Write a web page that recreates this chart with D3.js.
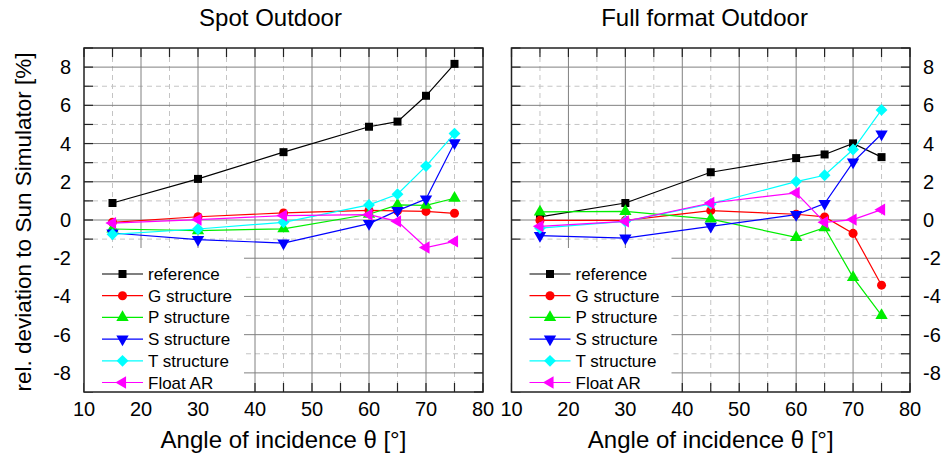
<!DOCTYPE html>
<html>
<head>
<meta charset="utf-8">
<script src="https://cdn.jsdelivr.net/npm/d3@7"></script>
<style>
  body { margin: 0; background: #fff; }
  text { font-family: "Liberation Sans", Arial, sans-serif; fill: #000; }
</style>
</head>
<body>
<svg id="chart" width="949" height="456"></svg>
<script>
// angles of incidence (deg)
const angles = [15, 30, 45, 60, 65, 70, 75];

const seriesNames = ["reference", "G structure", "P structure", "S structure", "T structure", "Float AR"];

// Spot Outdoor
const spotReference = [0.89, 2.15, 3.55, 4.88, 5.15, 6.5, 8.17];
const spotG = [-0.12, 0.17, 0.37, 0.5, 0.48, 0.45, 0.35];
const spotP = [-0.47, -0.56, -0.46, 0.3, 0.79, 0.77, 1.14];
const spotS = [-0.68, -1.03, -1.21, -0.19, 0.49, 1.1, 4.04];
const spotT = [-0.75, -0.47, -0.12, 0.79, 1.35, 2.82, 4.52];
const spotFloat = [-0.16, 0.02, 0.23, 0.28, -0.07, -1.44, -1.12];

// Full format Outdoor
const fullReference = [0.16, 0.89, 2.5, 3.24, 3.43, 4.01, 3.29];
const fullG = [-0.02, -0.02, 0.49, 0.3, 0.16, -0.7, -3.41];
const fullP = [0.42, 0.45, 0.05, -0.91, -0.4, -3.0, -4.99];
const fullS = [-0.82, -0.95, -0.33, 0.28, 0.86, 3.03, 4.5];
const fullT = [-0.42, -0.07, 0.84, 2.01, 2.34, 3.69, 5.76];
const fullFloat = [-0.33, -0.07, 0.89, 1.42, -0.12, 0.02, 0.54];

const xTicks = [10, 20, 30, 40, 50, 60, 70, 80];
const yTicks = [-8, -6, -4, -2, 0, 2, 4, 6, 8];

const colors = ["#000000", "#ff0000", "#00ee00", "#0000ff", "#00ffff", "#ff00ff"];
// marker: symbol + rotation
const markers = [
  { sym: d3.symbolSquare, size: 64, rot: 0 },
  { sym: d3.symbolCircle, size: 64, rot: 0 },
  { sym: d3.symbolTriangle, size: 66, rot: 0 },
  { sym: d3.symbolTriangle, size: 66, rot: 180 },
  { sym: d3.symbolSquare, size: 70, rot: 45 },
  { sym: d3.symbolTriangle, size: 66, rot: -90 }
];

const svg = d3.select("#chart");

const panels = [
  { title: "Spot Outdoor", titleX: 270.5, x0: 84, x1: 483, left: true,
    data: [spotReference, spotG, spotP, spotS, spotT, spotFloat] },
  { title: "Full format Outdoor", titleX: 704.5, x0: 511.5, x1: 910, left: false,
    data: [fullReference, fullG, fullP, fullS, fullT, fullFloat] }
];

const yTop = 48, yBottom = 392;
const y = d3.scaleLinear().domain([-9, 9]).range([yBottom, yTop]);

panels.forEach(p => {
  const x = d3.scaleLinear().domain([10, 80]).range([p.x0, p.x1]);
  const g = svg.append("g");

  // grid: dashed at half steps, solid at major
  const xMinor = d3.range(15, 80, 10);
  const yMinor = d3.range(-7, 9, 2);
  g.append("g").selectAll("line").data(xMinor).join("line")
    .attr("x1", d => x(d)).attr("x2", d => x(d)).attr("y1", yTop).attr("y2", yBottom)
    .attr("stroke", "#c4c4c4").attr("stroke-dasharray", "5,4");
  g.append("g").selectAll("line").data(yMinor).join("line")
    .attr("x1", p.x0).attr("x2", p.x1).attr("y1", d => y(d)).attr("y2", d => y(d))
    .attr("stroke", "#c4c4c4").attr("stroke-dasharray", "5,4");
  g.append("g").selectAll("line").data(xTicks.slice(1, -1)).join("line")
    .attr("x1", d => x(d)).attr("x2", d => x(d)).attr("y1", yTop).attr("y2", yBottom)
    .attr("stroke", "#808080");
  g.append("g").selectAll("line").data(yTicks).join("line")
    .attr("x1", p.x0).attr("x2", p.x1).attr("y1", d => y(d)).attr("y2", d => y(d))
    .attr("stroke", "#808080");

  // inward ticks on all four sides
  const tickG = g.append("g").attr("stroke", "#222").attr("stroke-width", 1.2);
  const allX = d3.range(10, 81, 5);
  const allY = d3.range(-9, 10, 1);
  allX.forEach(v => {
    tickG.append("line").attr("x1", x(v)).attr("x2", x(v)).attr("y1", yTop).attr("y2", yTop + 9);
    tickG.append("line").attr("x1", x(v)).attr("x2", x(v)).attr("y1", yBottom).attr("y2", yBottom - 9);
  });
  allY.forEach(v => {
    tickG.append("line").attr("x1", p.x0).attr("x2", p.x0 + 9).attr("y1", y(v)).attr("y2", y(v));
    tickG.append("line").attr("x1", p.x1).attr("x2", p.x1 - 9).attr("y1", y(v)).attr("y2", y(v));
  });

  // legend background covers grid and ticks
  g.append("rect").attr("x", p.x0).attr("y", 248).attr("width", 160).attr("height", yBottom - 248)
    .attr("fill", "#fff");

  // series
  const line = d3.line().x((d, i) => x(angles[i])).y(d => y(d));
  p.data.forEach((vals, k) => {
    g.append("path").datum(vals).attr("d", line)
      .attr("fill", "none").attr("stroke", colors[k]).attr("stroke-width", 1.2);
    const m = markers[k];
    g.append("g").selectAll("path").data(vals).join("path")
      .attr("d", d3.symbol(m.sym, m.size))
      .attr("transform", (d, i) => `translate(${x(angles[i])},${y(d)}) rotate(${m.rot})`)
      .attr("fill", colors[k]);
  });

  // frame
  g.append("rect").attr("x", p.x0).attr("y", yTop).attr("width", p.x1 - p.x0).attr("height", yBottom - yTop)
    .attr("fill", "none").attr("stroke", "#222").attr("stroke-width", 1.5);

  // x tick labels
  g.append("g").selectAll("text").data(xTicks).join("text")
    .attr("x", d => x(d)).attr("y", 416).attr("text-anchor", "middle")
    .attr("font-size", 20).text(d => d);

  // y tick labels
  g.append("g").selectAll("text").data(yTicks).join("text")
    .attr("x", p.left ? p.x0 - 13 : p.x1 + 13)
    .attr("y", d => y(d) + 7)
    .attr("text-anchor", p.left ? "end" : "start")
    .attr("font-size", 20).text(d => d);

  // titles
  g.append("text").attr("x", p.titleX).attr("y", 26).attr("text-anchor", "middle")
    .attr("font-size", 24).text(p.title);
  g.append("text").attr("x", (p.x0 + p.x1) / 2).attr("y", 448).attr("text-anchor", "middle")
    .attr("font-size", 24).text("Angle of incidence θ [°]");

  // legend
  const legX = p.x0 + 18;
  seriesNames.forEach((name, k) => {
    const ly = 274 + k * 21.7;
    g.append("line").attr("x1", legX).attr("x2", legX + 41).attr("y1", ly).attr("y2", ly)
      .attr("stroke", colors[k]).attr("stroke-width", 1.2);
    const m = markers[k];
    g.append("path").attr("d", d3.symbol(m.sym, m.size))
      .attr("transform", `translate(${legX + 20.5},${ly}) rotate(${m.rot})`)
      .attr("fill", colors[k]);
    g.append("text").attr("x", legX + 46).attr("y", ly + 6)
      .attr("font-size", 17).text(name);
  });
});

// y axis title
svg.append("text")
  .attr("transform", "translate(31,222) rotate(-90)")
  .attr("text-anchor", "middle").attr("font-size", 22.5)
  .text("rel. deviation to Sun Simulator [%]");
</script>
</body>
</html>
